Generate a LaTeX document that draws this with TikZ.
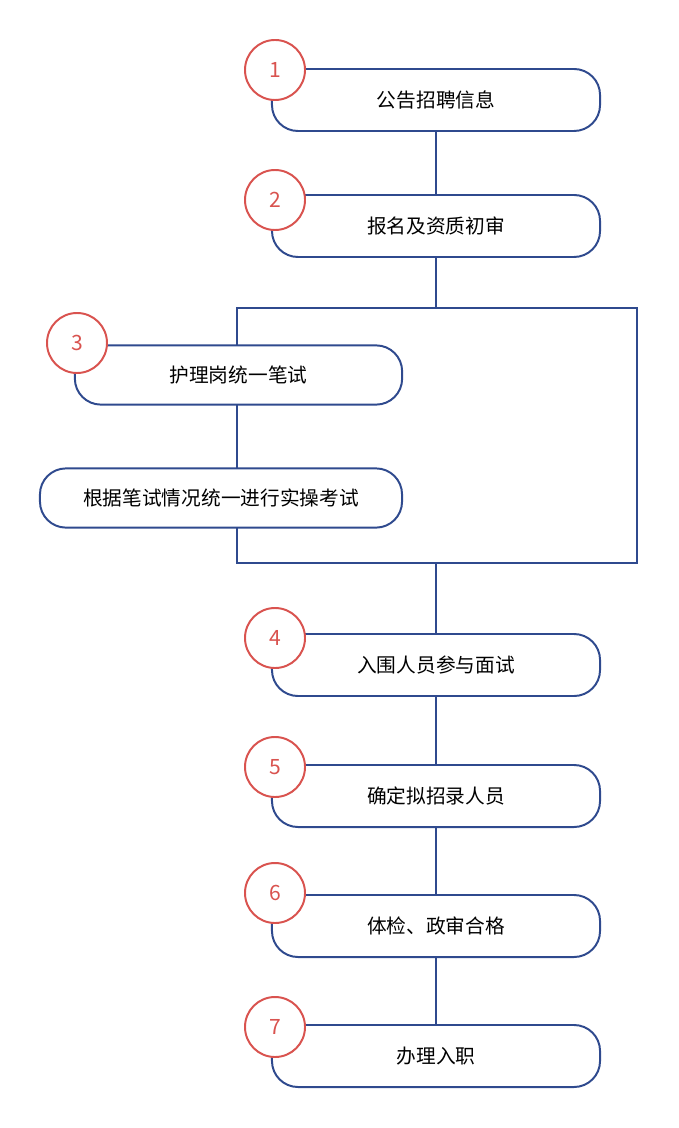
\documentclass[tikz,border=0pt]{standalone}
\usepackage{fontspec}
\setmainfont{Noto Sans CJK SC}
\definecolor{boxblue}{HTML}{2F4A8E}
\definecolor{numred}{HTML}{D9534F}
\tikzset{
  box/.style={draw=boxblue, line width=1.4pt, rounded corners=0.65cm, fill=white,
    minimum height=1.55cm, inner sep=0pt, font=\fontsize{14}{16}\selectfont},
  num/.style={circle, draw=numred, line width=1.4pt, fill=white, minimum size=1.5cm,
    inner sep=0pt, text=numred, font=\fontsize{15}{17}\selectfont},
  link/.style={draw=boxblue, line width=1.4pt}
}
\begin{document}
\begin{tikzpicture}[x=0.025cm, y=-0.025cm]
  \useasboundingbox (0,0) rectangle (678,1128);
	% main column
	\node[box, minimum width=8.2cm] (gonggao) at (436,100) {公告招聘信息};
	\node[box, minimum width=8.2cm] (baoming) at (436,226) {报名及资质初审};
	\node[box, minimum width=8.2cm] (mianshi) at (436,665) {入围人员参与面试};
	\node[box, minimum width=8.2cm] (queding) at (436,796) {确定拟招录人员};
	\node[box, minimum width=8.2cm] (tijian) at (436,926) {体检、政审合格};
	\node[box, minimum width=8.2cm] (banli) at (436,1056) {办理入职};
	% exam branch
	\node[box, minimum width=8.18cm, minimum height=1.48cm] (bishi) at (238.5,375) {护理岗统一笔试};
	\node[box, minimum width=9.05cm, minimum height=1.48cm] (shicao) at (221,498) {根据笔试情况统一进行实操考试};
	\coordinate (ktop) at (436,308);
	\coordinate (kbot) at (436,563);
	% connectors
	\begin{scope}[on background layer/.style={}]
	\draw[link] (gonggao) -- (baoming);
	\draw[link] (baoming) -- (ktop);
	\draw[link] (ktop) -- (637,308) -- (637,563) -- (kbot);
	\draw[link] (ktop) -- (237,308) -- (237,345);
	\draw[link] (237,404) -- (237,468);
	\draw[link] (237,527) -- (237,563) -- (kbot);
	\draw[link] (kbot) -- (mianshi);
	\draw[link] (mianshi) -- (queding);
	\draw[link] (queding) -- (tijian);
	\draw[link] (tijian) -- (banli);
	\end{scope}
	% numbers
	\node[num] (n1) at (275,70) {1};
	\node[num] (n2) at (275,200) {2};
	\node[num] (n3) at (77,343) {3};
	\node[num] (n4) at (275,638) {4};
	\node[num] (n5) at (275,767) {5};
	\node[num] (n6) at (275,893) {6};
	\node[num] (n7) at (275,1027) {7};
\end{tikzpicture}
\end{document}
